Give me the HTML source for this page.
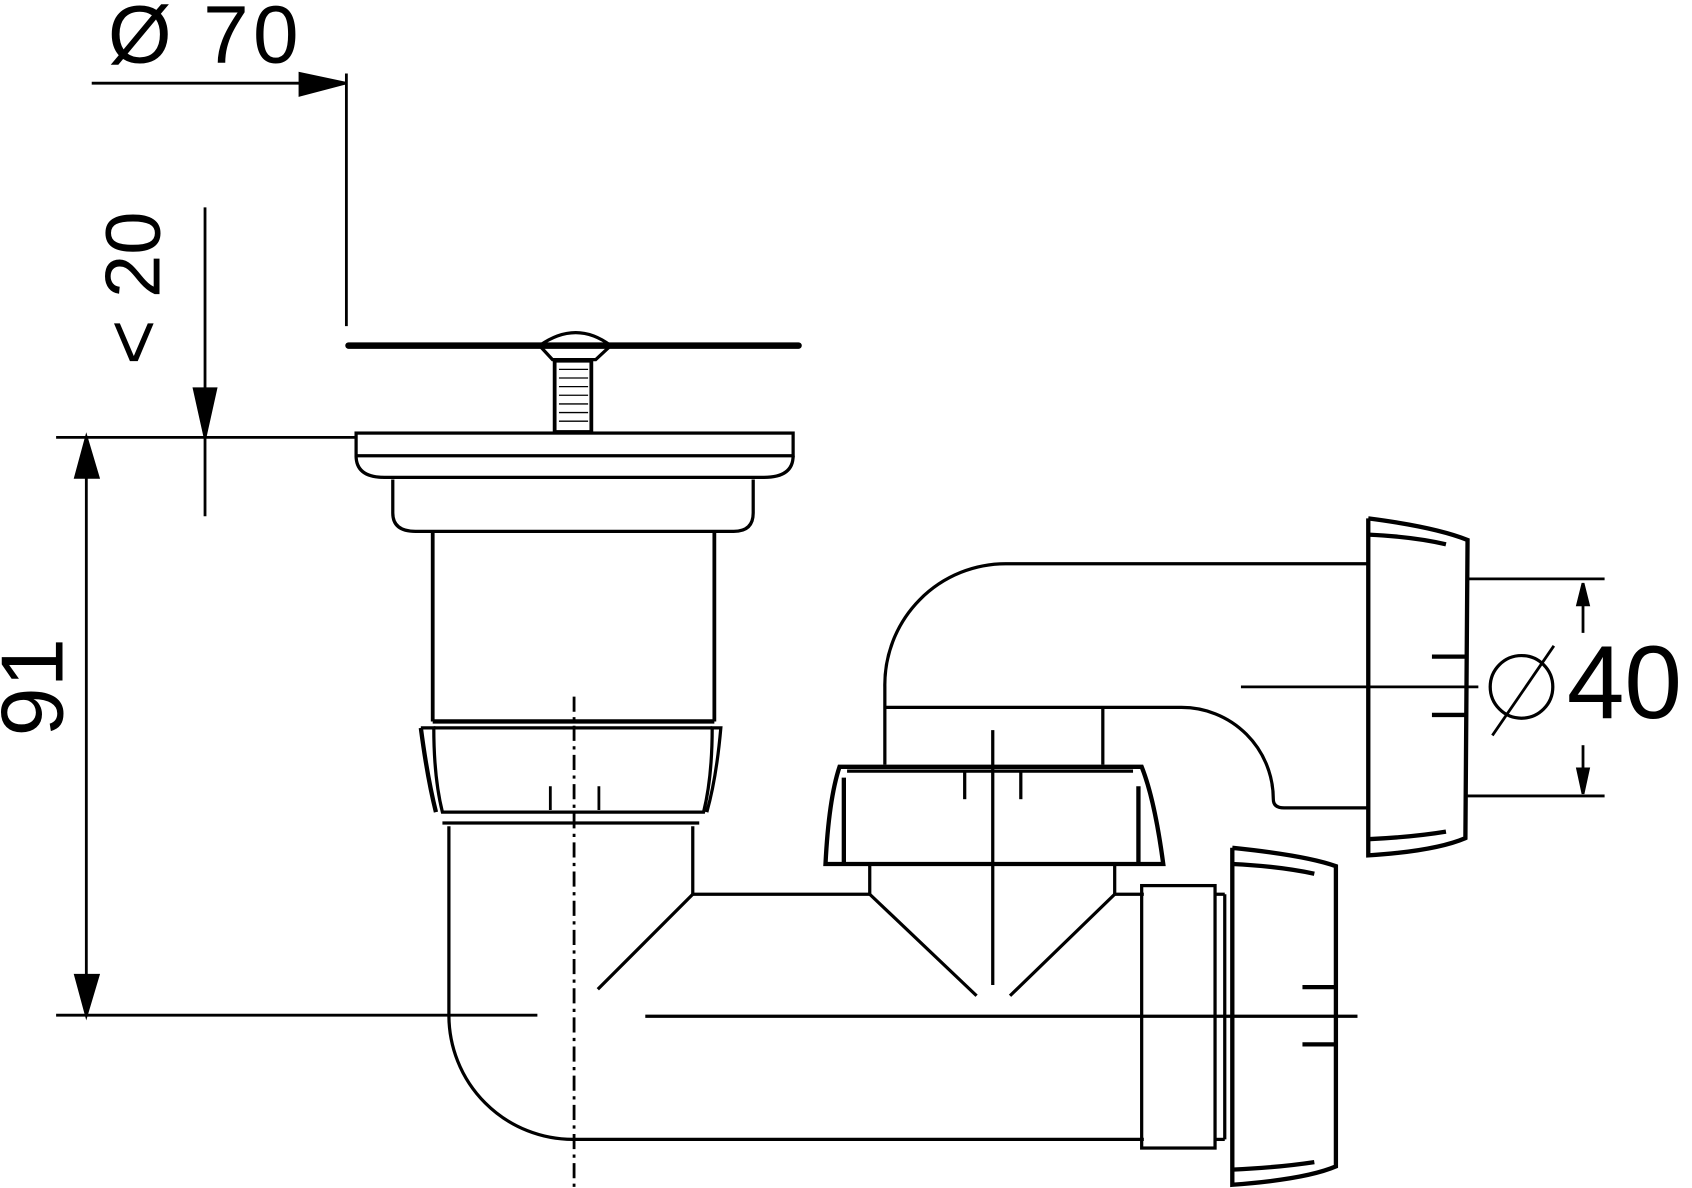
<!DOCTYPE html>
<html><head><meta charset="utf-8"><style>html,body{margin:0;padding:0;background:#fff}svg{display:block}</style></head><body>
<svg width="1692" height="1188" viewBox="0 0 1568 1100" preserveAspectRatio="none" xmlns="http://www.w3.org/2000/svg">
<g fill="none" stroke="#000" stroke-width="2.6">
<line x1="85" y1="77" x2="320" y2="77"/>
<polygon points="278,68 320,77 278,88" fill="#000"/>
<line x1="321" y1="68" x2="321" y2="302"/>
<line x1="190" y1="192" x2="190" y2="478"/>
<polygon points="180,360 190,405 200,360" fill="#000"/>
<line x1="52" y1="405" x2="330" y2="405"/>
<line x1="80" y1="405" x2="80" y2="940"/>
<polygon points="70,442 80,405 91,442" fill="#000"/>
<polygon points="70,903 80,940 91,903" fill="#000"/>
<line x1="52" y1="940" x2="498" y2="940"/>
<line x1="1360" y1="536" x2="1487" y2="536"/>
<line x1="1360" y1="737" x2="1487" y2="737"/>
<line x1="1467" y1="540" x2="1467" y2="586"/>
<line x1="1467" y1="690" x2="1467" y2="735"/>
<polygon points="1462,560 1467,540 1472,560" fill="#000"/>
<polygon points="1462,712 1467,735 1472,712" fill="#000"/>
<line x1="1150" y1="636" x2="1370" y2="636"/>
<line x1="323" y1="320" x2="740" y2="320" stroke-width="6" stroke-linecap="round"/>
<path d="M500 320 L512 333 L552 333 L566 320 Q534 296 500 320" stroke-width="3"/>
<rect x="514" y="334" width="34" height="66" stroke-width="3.5"/>
<g stroke-width="1.2"><line x1="518" y1="342" x2="545" y2="342"/><line x1="518" y1="350" x2="545" y2="350"/><line x1="518" y1="358" x2="545" y2="358"/><line x1="518" y1="366" x2="545" y2="366"/><line x1="518" y1="374" x2="545" y2="374"/><line x1="518" y1="382" x2="545" y2="382"/><line x1="518" y1="390" x2="545" y2="390"/></g>
<rect x="330" y="401" width="405" height="21" stroke-width="3"/>
<path d="M330 422 Q330 442 356 442 L708 442 Q735 442 735 422" stroke-width="3"/>
<path d="M364 444 L364 475 Q364 492 385 492 L680 492 Q698 492 698 475 L698 444" stroke-width="3"/>
<line x1="401" y1="492" x2="401" y2="668" stroke-width="3.5"/>
<line x1="662" y1="492" x2="662" y2="668" stroke-width="3.5"/>
<line x1="401" y1="668" x2="662" y2="668" stroke-width="4"/>
<path d="M390 674 L402 674 Q402 720 410 752 L652 752 Q660 720 660 674 L668 674 Q664 720 655 752" stroke-width="3"/>
<path d="M390 674 Q396 720 404 752" stroke-width="4"/>
<line x1="402" y1="674" x2="660" y2="674" stroke-width="3"/>
<line x1="510" y1="728" x2="510" y2="750"/><line x1="555" y1="728" x2="555" y2="750"/>
<line x1="410" y1="762" x2="648" y2="762" stroke-width="3"/>
<path d="M416 765 L416 940 A115 115 0 0 0 531 1055 L1060 1055" stroke-width="3"/>
<line x1="642" y1="765" x2="642" y2="828" stroke-width="3"/>
<line x1="642" y1="828" x2="806" y2="828" stroke-width="3"/>
<line x1="642" y1="828" x2="554" y2="916" stroke-width="3"/>
<line x1="532" y1="645" x2="532" y2="1100" stroke-dasharray="14,5,3,5"/>
<line x1="598" y1="941" x2="1258" y2="941" stroke-width="3"/>
<path d="M765 800 Q768 740 778 710 L1058 710 Q1070 740 1078 800 Z" stroke-width="4"/>
<line x1="782" y1="720" x2="782" y2="800" stroke-width="4"/>
<line x1="1055" y1="728" x2="1055" y2="800" stroke-width="4"/>
<line x1="785" y1="714" x2="1050" y2="714" stroke-width="3"/>
<line x1="894" y1="714" x2="894" y2="740" stroke-width="3"/><line x1="946" y1="714" x2="946" y2="740" stroke-width="3"/>
<line x1="806" y1="800" x2="806" y2="828" stroke-width="3"/>
<line x1="1033" y1="800" x2="1033" y2="828" stroke-width="3"/>
<line x1="1033" y1="828" x2="1060" y2="828" stroke-width="3"/>
<line x1="806" y1="828" x2="905" y2="922" stroke-width="3"/>
<line x1="1033" y1="828" x2="936" y2="922" stroke-width="3"/>
<line x1="920" y1="676" x2="920" y2="912" stroke-width="3"/>
<path d="M820 708 L820 636 A112 112 0 0 1 932 522 L1268 522" stroke-width="3"/>
<path d="M820 655 L1095 655 A85 85 0 0 1 1180 740 Q1180 748 1190 748 L1268 748" stroke-width="3"/>
<line x1="1022" y1="655" x2="1022" y2="708" stroke-width="3"/>
<path d="M1268 480 L1268 792 Q1330 788 1358 776 L1360 500 Q1330 488 1268 480" stroke-width="4"/>
<path d="M1268 495 Q1310 497 1340 504" stroke-width="4"/>
<path d="M1268 777 Q1310 775 1340 770" stroke-width="4"/>
<line x1="1327" y1="608" x2="1360" y2="608" stroke-width="4"/>
<line x1="1327" y1="662" x2="1360" y2="662" stroke-width="4"/>
<path d="M1142 785 L1142 1097 Q1210 1092 1238 1080 L1238 802 Q1210 792 1142 785" stroke-width="4"/>
<path d="M1142 800 Q1185 802 1218 809" stroke-width="4"/>
<path d="M1142 1083 Q1185 1081 1218 1076" stroke-width="4"/>
<line x1="1207" y1="914" x2="1238" y2="914" stroke-width="4"/>
<line x1="1207" y1="967" x2="1238" y2="967" stroke-width="4"/>
<rect x="1058" y="820" width="68" height="243" stroke-width="3"/>
<line x1="1126" y1="828" x2="1135" y2="828" stroke-width="3"/>
<line x1="1135" y1="828" x2="1135" y2="1055" stroke-width="3"/>
<line x1="1126" y1="1055" x2="1135" y2="1055" stroke-width="3"/>
<circle cx="1410" cy="636" r="29" stroke-width="3"/>
<line x1="1383" y1="681" x2="1440" y2="598" stroke-width="2.6"/>
</g>
<g font-family="Liberation Sans, sans-serif" fill="#000">
<text x="100" y="58" font-size="76" letter-spacing="4">Ø 70</text>
<text transform="translate(148,338) rotate(-90)" font-size="72">&lt; 20</text>
<text transform="translate(58,682) rotate(-90)" font-size="82">91</text>
<text x="1452" y="665" font-size="96">40</text>
</g>
</svg>
</body></html>
